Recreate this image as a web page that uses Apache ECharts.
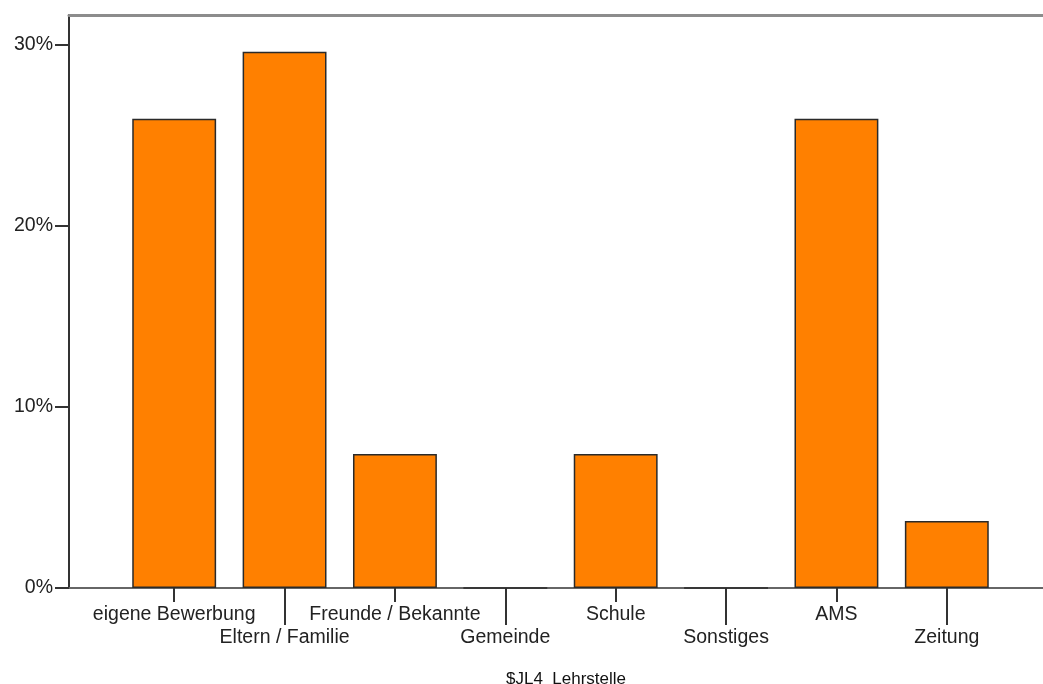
<!DOCTYPE html>
<html>
<head>
<meta charset="utf-8">
<script src="https://cdn.jsdelivr.net/npm/echarts@6/dist/echarts.min.js"></script>
<style>html,body{margin:0;padding:0;background:#fff}#c{width:1043px;height:684px}</style>
</head>
<body>
<div id="c"></div>
<script>
const categories = ['eigene Bewerbung', 'Eltern / Familie', 'Freunde / Bekannte', 'Gemeinde', 'Schule', 'Sonstiges', 'AMS', 'Zeitung'];
const percentValues = [25.93, 29.63, 7.41, 0, 7.41, 0, 25.93, 3.70];
const yTicks = [0, 10, 20, 30];
const axisTitle = '$JL4  Lehrstelle';

const FONT = 'Liberation Sans';
const chart = echarts.init(document.getElementById('c'), null, {renderer: 'canvas'});
chart.setOption({
  animation: false,
  backgroundColor: '#ffffff',
  title: {
    text: axisTitle,
    left: 561, top: 666,
    textAlign: 'center',
    textStyle: {fontFamily: FONT, fontSize: 17, fontWeight: 'normal', color: '#111'}
  },
  grid: [
    {left: 69, right: 0, top: 15, bottom: 96},
    {left: 119, right: 41, top: 45, bottom: 96}
  ],
  xAxis: [
    {gridIndex: 0, type: 'value', min: 0, max: 1, position: 'bottom',
     axisLine: {show: true, lineStyle: {color: '#666', width: 2}},
     axisTick: {show: false}, axisLabel: {show: false}, splitLine: {show: false}},
    {gridIndex: 0, type: 'value', min: 0, max: 1, position: 'top',
     axisLine: {show: true, lineStyle: {color: '#8c8c8c', width: 3}},
     axisTick: {show: false}, axisLabel: {show: false}, splitLine: {show: false}},
    {gridIndex: 1, type: 'category', data: categories, position: 'bottom',
     axisLine: {show: false},
     axisTick: {show: true, alignWithLabel: true, length: 14, interval: (i) => i % 2 === 0,
                lineStyle: {color: '#333', width: 2}},
     axisLabel: {interval: 0, margin: 15, fontFamily: FONT, fontSize: 19.5, color: '#222', lineHeight: 23,
                 formatter: (v, i) => (i % 2 === 1 ? '\n' + v : v)}},
    {gridIndex: 1, type: 'category', data: categories, position: 'bottom',
     axisLine: {show: false},
     axisTick: {show: true, alignWithLabel: true, length: 37, interval: (i) => i % 2 === 1,
                lineStyle: {color: '#333', width: 2}},
     axisLabel: {show: false}}
  ],
  yAxis: [
    {gridIndex: 0, type: 'value', min: 0, max: 1,
     axisLine: {show: true, lineStyle: {color: '#333', width: 2}},
     axisTick: {show: false}, axisLabel: {show: false}, splitLine: {show: false}},
    {gridIndex: 1, type: 'value', min: yTicks[0], max: yTicks[yTicks.length - 1], interval: 10, offset: 50,
     axisLine: {show: false},
     axisTick: {show: true, length: 14, lineStyle: {color: '#333', width: 2}},
     axisLabel: {margin: 16, fontFamily: FONT, fontSize: 19.5, color: '#222', formatter: '{value}%',
                 padding: [3, 0, 0, 0]},
     splitLine: {show: false}}
  ],
  series: [{
    type: 'bar',
    xAxisIndex: 2, yAxisIndex: 1,
    data: percentValues,
    barCategoryGap: '24%',
    itemStyle: {color: '#ff8000', borderColor: '#2a2a2a', borderWidth: 1.5}
  }]
});
</script>
</body>
</html>
